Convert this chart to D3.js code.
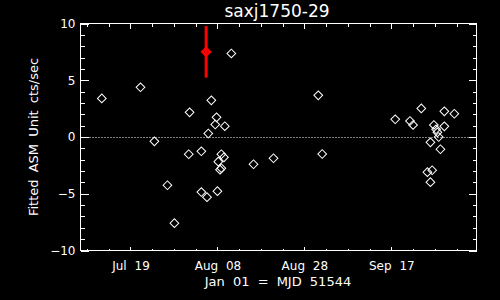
<!DOCTYPE html>
<html>
<head>
<meta charset="utf-8">
<script src="https://cdn.jsdelivr.net/npm/d3@7"></script>
<style>
  html, body { margin: 0; padding: 0; background: #000; }
  svg { display: block; }
  text { font-family: "DejaVu Sans", sans-serif; fill: #fff; }
</style>
</head>
<body>
<script>
// Days since Jan 01 (MJD 51544) and fitted ASM rate for each dwell
const days = [
  193.4, 202.3, 205.5, 208.5, 210.1, 213.4, 213.6, 216.3, 216.3, 217.6,
  217.9, 218.6, 219.8, 219.5, 221.7, 220.0, 220.9, 221.5, 220.2, 220.6,
  220.9, 223.2, 228.3, 232.9, 243.2, 244.1,
  260.9, 266.9, 272.2, 274.5, 264.3, 265.0, 269.8, 270.3, 272.2, 270.6,
  270.9, 269.0, 271.3, 268.3, 269.4, 269.0
];
const rates = [
  3.40, 4.38, -0.38, -4.25, -7.59, -1.52, 2.17, -1.26, -4.85, -5.30,
  0.31, 3.23, 1.73, 1.10, 0.95, -4.77, -1.52, -1.79, -2.17, -2.88,
  -2.75, 7.36, -2.40, -1.87, 3.67, -1.50,
  1.56, 2.52, 2.26, 2.05, 1.41, 1.06, 1.06, 0.68, 0.94, 0.41,
  0.00, -0.47, -1.08, -3.10, -2.93, -3.98
];

// The one highlighted point with its error bar
const flareDay = [217.4];
const flareRate = [7.50];
const flareErr = [2.27];

// Axis ticks
const xMajorTicks = [200, 220, 240, 260];
const xTickLabels = ["Jul 19", "Aug 08", "Aug 28", "Sep 17"];
const yMajorTicks = [-10, -5, 0, 5, 10];

const width = 500, height = 300;
const svg = d3.select("body").append("svg")
  .attr("width", width)
  .attr("height", height);

svg.append("rect").attr("width", width).attr("height", height).attr("fill", "#000");

const x = d3.scaleLinear().domain([188.5, 279.6]).range([80.5, 476.5]);
const y = d3.scaleLinear().domain([-10, 10]).range([250.5, 23.5]);

const xMinor = d3.range(190, 280, 5).filter(d => !xMajorTicks.includes(d));
const yMinor = d3.range(-10, 11, 1).filter(d => !yMajorTicks.includes(d));

// helper to style an axis group white and thin
function styleAxis(g) {
  g.selectAll("path, line").attr("stroke", "#fff").attr("shape-rendering", "crispEdges");
  g.select(".domain").remove();
  g.selectAll("text").attr("fill", "#fff").style("font-size", "12px");
}

// frame
svg.append("rect")
  .attr("x", 80.5).attr("y", 23.5)
  .attr("width", 396).attr("height", 227)
  .attr("fill", "none").attr("stroke", "#fff")
  .attr("shape-rendering", "crispEdges");

// bottom axis, ticks pointing in
svg.append("g").attr("transform", "translate(0,250.5)")
  .call(d3.axisBottom(x).tickValues(xMajorTicks).tickSize(-4).tickPadding(11)
    .tickFormat((d, i) => xTickLabels[i]))
  .call(styleAxis)
  .selectAll("text").style("word-spacing", "4px");
svg.append("g").attr("transform", "translate(0,250.5)")
  .call(d3.axisBottom(x).tickValues(xMinor).tickSize(-2).tickFormat(""))
  .call(styleAxis);

// top axis, ticks pointing in
svg.append("g").attr("transform", "translate(0,23.5)")
  .call(d3.axisTop(x).tickValues(xMajorTicks).tickSize(-5).tickFormat(""))
  .call(styleAxis);
svg.append("g").attr("transform", "translate(0,23.5)")
  .call(d3.axisTop(x).tickValues(xMinor).tickSize(-3).tickFormat(""))
  .call(styleAxis);

// left axis
svg.append("g").attr("transform", "translate(80.5,0)")
  .call(d3.axisLeft(y).tickValues(yMajorTicks).tickSize(-8).tickPadding(5))
  .call(styleAxis);
svg.append("g").attr("transform", "translate(80.5,0)")
  .call(d3.axisLeft(y).tickValues(yMinor).tickSize(-4).tickFormat(""))
  .call(styleAxis);

// right axis
svg.append("g").attr("transform", "translate(476.5,0)")
  .call(d3.axisRight(y).tickValues(yMajorTicks).tickSize(-8).tickFormat(""))
  .call(styleAxis);
svg.append("g").attr("transform", "translate(476.5,0)")
  .call(d3.axisRight(y).tickValues(yMinor).tickSize(-4).tickFormat(""))
  .call(styleAxis);

// dotted zero line
svg.append("line")
  .attr("x1", x.range()[0]).attr("x2", x.range()[1])
  .attr("y1", Math.round(y(0)) + 0.5).attr("y2", Math.round(y(0)) + 0.5)
  .attr("stroke", "#fff").attr("stroke-dasharray", "1,2");

// data diamonds
const diamond = d3.symbol(d3.symbolSquare, 38);
svg.append("g").selectAll("path")
  .data(days.map((d, i) => [d, rates[i]]))
  .join("path")
  .attr("d", diamond)
  .attr("transform", d => `translate(${x(d[0])},${y(d[1])}) rotate(45)`)
  .attr("fill", "none")
  .attr("stroke", "#fff")
  .attr("stroke-width", 1);

// highlighted point with error bar
const flare = flareDay.map((d, i) => ({ d, r: flareRate[i], e: flareErr[i] }));
svg.append("g").selectAll("line")
  .data(flare)
  .join("line")
  .attr("x1", d => x(d.d)).attr("x2", d => x(d.d))
  .attr("y1", d => y(d.r + d.e)).attr("y2", d => y(d.r - d.e))
  .attr("stroke", "#ff0000").attr("stroke-width", 3);
svg.append("g").selectAll("path")
  .data(flare)
  .join("path")
  .attr("d", d3.symbol(d3.symbolSquare, 30))
  .attr("transform", d => `translate(${x(d.d)},${y(d.r)}) rotate(45)`)
  .attr("fill", "none")
  .attr("stroke", "#ff0000")
  .attr("stroke-width", 2.5);

// title
svg.append("text")
  .attr("x", 277).attr("y", 17)
  .attr("text-anchor", "middle")
  .style("font-size", "17px")
  .text("saxj1750-29");

// x label
svg.append("text")
  .attr("x", 278).attr("y", 286)
  .attr("text-anchor", "middle")
  .style("font-size", "13px")
  .style("word-spacing", "4px")
  .text("Jan 01 = MJD 51544");

// y label
svg.append("text")
  .attr("transform", "translate(38,137) rotate(-90)")
  .attr("text-anchor", "middle")
  .style("font-size", "13px")
  .style("word-spacing", "3px")
  .text("Fitted ASM Unit cts/sec");
</script>
</body>
</html>
